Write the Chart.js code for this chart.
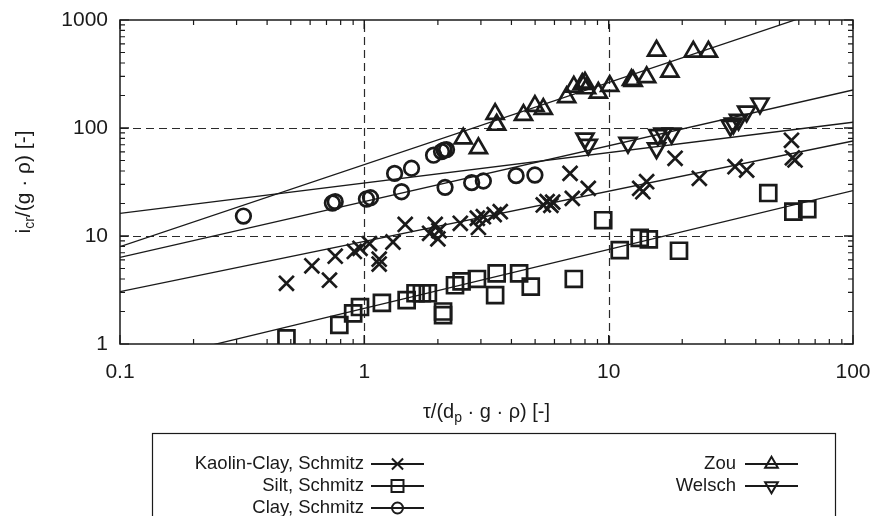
<!DOCTYPE html>
<html>
<head>
<meta charset="utf-8">
<script src="https://cdn.jsdelivr.net/npm/chart.js@4.4.0/dist/chart.umd.min.js"></script>
<style>
  html, body { margin: 0; background: #fff; }
  #chart { display: block; }
</style>
</head>
<body>
<canvas id="chart" width="877" height="516"></canvas>
<script>
const xTicks = [0.1, 1, 10, 100];
const yTicks = [1, 10, 100, 1000];

// Kaolin-Clay, Schmitz
const kaolinX = [0.48, 0.61, 0.72, 0.76, 0.91, 0.96, 1.05, 1.15, 1.15, 1.31, 1.47, 1.85, 1.95, 2.0, 2.02, 2.47, 2.9, 2.93, 3.07, 3.4, 3.6, 5.4, 5.6, 5.8, 5.9, 6.95, 7.1, 8.25, 13.4, 13.8, 14.3, 18.7, 23.5, 32.9, 36.7, 56, 56.5, 57.9];
const kaolinY = [3.65, 5.3, 3.9, 6.5, 7.2, 7.7, 8.5, 6.1, 5.5, 8.8, 12.8, 10.6, 12.8, 9.4, 11.2, 13.1, 14.6, 12, 15.1, 15.8, 16.8, 19.4, 20.8, 19.2, 20.6, 38, 22.3, 27.6, 27.6, 25.7, 31.8, 52.4, 34.2, 43.8, 40.8, 77, 53, 50.6];

// Silt, Schmitz
const siltX = [0.48, 0.79, 0.9, 0.96, 1.18, 1.49, 1.62, 1.72, 1.82, 2.1, 2.1, 2.35, 2.5, 2.89, 3.43, 3.48, 4.3, 4.8, 7.2, 9.5, 11.1, 13.4, 14.6, 19.4, 45, 57, 65];
const siltY = [1.13, 1.5, 1.92, 2.2, 2.4, 2.55, 2.95, 2.95, 2.95, 1.85, 2.0, 3.5, 3.8, 4.0, 2.84, 4.5, 4.5, 3.4, 4.0, 14, 7.4, 9.6, 9.3, 7.3, 25, 16.8, 17.7];

// Clay, Schmitz
const clayX = [0.32, 0.74, 0.76, 1.02, 1.06, 1.33, 1.42, 1.56, 1.92, 2.07, 2.12, 2.17, 2.14, 2.75, 3.07, 4.18, 4.99];
const clayY = [15.3, 20.2, 20.8, 22, 22.6, 38, 25.7, 42.4, 56, 60.5, 62.5, 63, 28.2, 31.2, 32.3, 36.2, 36.7];

// Zou
const zouX = [2.54, 2.93, 3.43, 3.48, 4.48, 4.99, 5.4, 6.73, 7.2, 7.8, 8.0, 8.12, 9.07, 10.1, 12.4, 12.6, 14.3, 15.7, 17.8, 22.2, 25.6];
const zouY = [80, 65, 135, 107, 132, 160, 150, 193, 241, 255, 263, 233, 212, 245, 278, 272, 295, 520, 332, 509, 509];

// Welsch
const welschX = [8.0, 8.25, 12.0, 15.7, 15.9, 16.7, 18.1, 31.5, 32.4, 34, 36.7, 41.6];
const welschY = [80, 70, 73, 65, 86, 89, 89, 105, 110, 119, 142, 169];

// power-law fits, end points at x = 0.1 and x = 100
const fitX = [0.1, 100];
const fitKaolin = [3.05, 75.8];
const fitSilt = [0.61, 26.3];
const fitClay = [16.2, 113];
const fitZou = [7.96, 1517];
const fitWelsch = [6.35, 225];

const INK = '#1a1a1a';
const FONT = '"Liberation Sans", Arial, sans-serif';

const pts = (xs, ys) => xs.map((x, i) => ({ x, y: ys[i] }));

const series = [
  { label: 'Kaolin-Clay, Schmitz', data: pts(kaolinX, kaolinY), pointStyle: 'crossRot', radius: 10.5, rotation: 0 },
  { label: 'Silt, Schmitz', data: pts(siltX, siltY), pointStyle: 'rect', radius: 11.3, rotation: 0 },
  { label: 'Clay, Schmitz', data: pts(clayX, clayY), pointStyle: 'circle', radius: 7.3, rotation: 0 },
  { label: 'Zou', data: pts(zouX, zouY), pointStyle: 'triangle', radius: 9.8, rotation: 0 },
  { label: 'Welsch', data: pts(welschX, welschY), pointStyle: 'triangle', radius: 9.8, rotation: 180 }
];

const fits = [fitKaolin, fitSilt, fitClay, fitZou, fitWelsch].map(f => ({
  data: pts(fitX, f),
  showLine: true,
  borderColor: INK,
  borderWidth: 1.3,
  pointRadius: 0,
  pointHoverRadius: 0
}));

const markers = series.map(s => ({
  label: s.label,
  data: s.data,
  showLine: false,
  pointStyle: s.pointStyle,
  pointRadius: s.radius,
  pointHoverRadius: s.radius,
  pointRotation: s.rotation,
  pointBorderWidth: 2.7,
  borderColor: INK,
  backgroundColor: 'rgba(0,0,0,0)'
}));

// text with a subscript part, centred on (cx, cy)
function drawRich(ctx, parts, cx, cy, size) {
  const subSize = Math.round(size * 0.68);
  let total = 0;
  parts.forEach(p => {
    ctx.font = (p.sub ? subSize : size) + 'px ' + FONT;
    p.w = ctx.measureText(p.t).width;
    total += p.w;
  });
  let x = cx - total / 2;
  ctx.textAlign = 'left';
  ctx.textBaseline = 'middle';
  parts.forEach(p => {
    ctx.font = (p.sub ? subSize : size) + 'px ' + FONT;
    ctx.fillText(p.t, x, p.sub ? cy + size * 0.3 : cy);
    x += p.w;
  });
}

const decorations = {
  id: 'decorations',
  beforeDatasetsDraw(chart) {
    const { ctx, chartArea: a, scales: { x, y } } = chart;
    ctx.save();
    ctx.strokeStyle = '#2a2a2a';
    ctx.lineWidth = 1.2;
    ctx.setLineDash([8, 5]);
    [1, 10].forEach(v => {
      const px = Math.round(x.getPixelForValue(v)) + 0.5;
      ctx.beginPath(); ctx.moveTo(px, a.bottom); ctx.lineTo(px, a.top); ctx.stroke();
    });
    [10, 100].forEach(v => {
      const py = Math.round(y.getPixelForValue(v)) + 0.5;
      ctx.beginPath(); ctx.moveTo(a.left, py); ctx.lineTo(a.right, py); ctx.stroke();
    });
    ctx.restore();
  },
  afterDatasetsDraw(chart) {
    const { ctx, chartArea: a, scales: { x, y } } = chart;
    ctx.save();
    ctx.strokeStyle = INK;
    ctx.lineWidth = 1.5;
    ctx.strokeRect(a.left, a.top, a.right - a.left, a.bottom - a.top);
    ctx.lineWidth = 1.2;
    // inward ticks on all four sides
    for (let d = 0.1; d < 100; d *= 10) {
      for (let k = 1; k <= 10; k++) {
        const len = k === 1 || k === 10 ? 9 : 5;
        const px = x.getPixelForValue(d * k);
        ctx.beginPath();
        ctx.moveTo(px, a.bottom); ctx.lineTo(px, a.bottom - len);
        ctx.moveTo(px, a.top); ctx.lineTo(px, a.top + len);
        ctx.stroke();
      }
    }
    for (let d = 1; d < 1000; d *= 10) {
      for (let k = 1; k <= 10; k++) {
        const len = k === 1 || k === 10 ? 9 : 5;
        const py = y.getPixelForValue(d * k);
        ctx.beginPath();
        ctx.moveTo(a.left, py); ctx.lineTo(a.left + len, py);
        ctx.moveTo(a.right, py); ctx.lineTo(a.right - len, py);
        ctx.stroke();
      }
    }
    ctx.restore();
  },
  afterDraw(chart) {
    const { ctx, chartArea: a } = chart;
    ctx.save();
    ctx.fillStyle = INK;

    // axis titles
    drawRich(ctx, [{ t: 'τ/(d' }, { t: 'p', sub: true }, { t: ' · g · ρ) [-]' }], (a.left + a.right) / 2, 412, 20);
    ctx.save();
    ctx.translate(24, (a.top + a.bottom) / 2);
    ctx.rotate(-Math.PI / 2);
    drawRich(ctx, [{ t: 'i' }, { t: 'cr', sub: true }, { t: '/(g · ρ) [-]' }], 0, 0, 21);
    ctx.restore();

    // key box
    ctx.strokeStyle = INK;
    ctx.lineWidth = 1.2;
    ctx.strokeRect(152.5, 433.5, 683, 120);

    const slots = [
      { textRight: 364, lineFrom: 371, lineTo: 424, y: 464 },
      { textRight: 364, lineFrom: 371, lineTo: 424, y: 486 },
      { textRight: 364, lineFrom: 371, lineTo: 424, y: 508 },
      { textRight: 736, lineFrom: 745, lineTo: 798, y: 464 },
      { textRight: 736, lineFrom: 745, lineTo: 798, y: 486 }
    ];
    series.forEach((s, i) => {
      const p = slots[i];
      ctx.font = '18.5px ' + FONT;
      ctx.textAlign = 'right';
      ctx.textBaseline = 'middle';
      ctx.fillStyle = INK;
      ctx.fillText(s.label, p.textRight, p.y);
      ctx.lineWidth = 1.8;
      ctx.beginPath(); ctx.moveTo(p.lineFrom, p.y); ctx.lineTo(p.lineTo, p.y); ctx.stroke();
      ctx.lineWidth = 2;
      ctx.fillStyle = 'rgba(0,0,0,0)';
      Chart.helpers.drawPoint(ctx, {
        pointStyle: s.pointStyle,
        radius: s.radius * 0.75,
        rotation: s.rotation,
        borderWidth: 2
      }, (p.lineFrom + p.lineTo) / 2, p.y);
    });
    ctx.restore();
  }
};

new Chart(document.getElementById('chart'), {
  type: 'scatter',
  data: { datasets: [...fits, ...markers] },
  options: {
    responsive: false,
    animation: false,
    events: [],
    layout: { padding: { top: 20, right: 24, bottom: 0, left: 0 } },
    plugins: { legend: { display: false }, tooltip: { enabled: false } },
    scales: {
      x: {
        type: 'logarithmic',
        min: 0.1,
        max: 100,
        afterBuildTicks: s => { s.ticks = xTicks.map(v => ({ value: v })); },
        afterFit: s => { s.height = 172; s.paddingLeft = 0; s.paddingRight = 0; },
        grid: { display: false, drawTicks: false },
        border: { display: false },
        ticks: {
          autoSkip: false,
          maxRotation: 0,
          padding: 16,
          color: INK,
          font: { family: FONT, size: 21 },
          callback: v => String(v)
        }
      },
      y: {
        type: 'logarithmic',
        min: 1,
        max: 1000,
        afterBuildTicks: s => { s.ticks = yTicks.map(v => ({ value: v })); },
        afterFit: s => { s.width = 120; s.paddingTop = 0; s.paddingBottom = 0; },
        grid: { display: false, drawTicks: false },
        border: { display: false },
        ticks: {
          autoSkip: false,
          padding: 12,
          color: INK,
          font: { family: FONT, size: 21 },
          callback: v => String(v)
        }
      }
    }
  },
  plugins: [decorations]
});
</script>
</body>
</html>
